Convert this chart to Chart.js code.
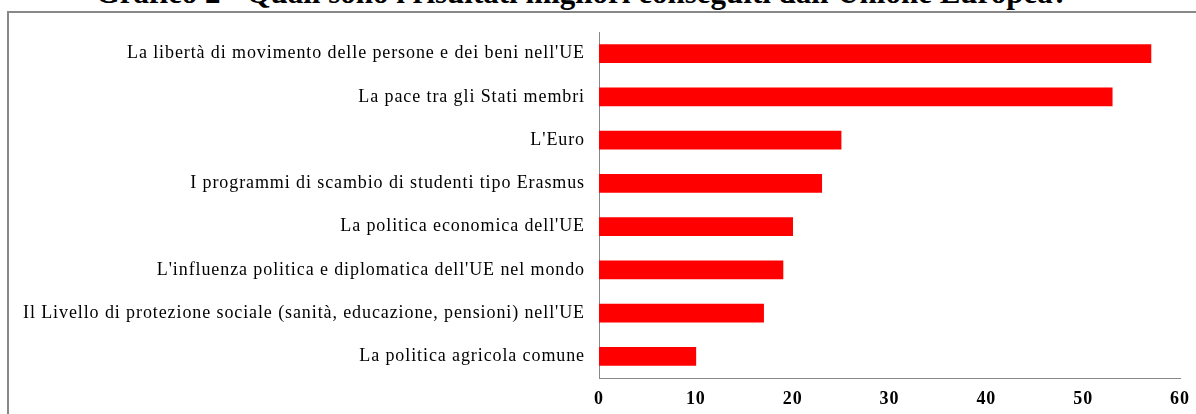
<!DOCTYPE html>
<html>
<head>
<meta charset="utf-8">
<script src="https://cdn.jsdelivr.net/npm/chart.js@4"></script>
<style>
  html, body { margin: 0; padding: 0; background: #fff; width: 1196px; height: 414px; overflow: hidden; position: relative; }
  #title { position: absolute; left: 0; width: 1164px; top: -23px; line-height: 31px; text-align: center; font-family: "Liberation Serif", serif; font-weight: bold; font-size: 31px; color: #000; white-space: nowrap; }
  #frame { position: absolute; left: 7px; top: 11px; width: 1300px; height: 500px; border: 2px solid #888; box-sizing: border-box; }
  #wrap { position: absolute; left: 0; top: 0; width: 1196px; height: 414px; }
</style>
</head>
<body>
<div id="title">Grafico 2 - Quali sono i risultati migliori conseguiti dall'Unione Europea?</div>
<div id="frame"></div>
<div id="wrap"><canvas id="c" width="1196" height="414"></canvas></div>
<script>
const categories = [
  "La libertà di movimento delle persone e dei beni nell'UE",
  "La pace tra gli Stati membri",
  "L'Euro",
  "I programmi di scambio di studenti tipo Erasmus",
  "La politica economica dell'UE",
  "L'influenza politica e diplomatica dell'UE nel mondo",
  "Il Livello di protezione sociale (sanità, educazione, pensioni) nell'UE",
  "La politica agricola comune"
];
const values = [57, 53, 25, 23, 20, 19, 17, 10];
const xTicks = [0, 10, 20, 30, 40, 50, 60];

const spacing = {
  id: 'spacing',
  beforeLayout(chart) { chart.ctx.letterSpacing = '0.9px'; },
  beforeDraw(chart) { chart.ctx.letterSpacing = '0.9px'; }
};

new Chart(document.getElementById('c'), {
  type: 'bar',
  data: {
    labels: categories,
    datasets: [{
      data: values,
      backgroundColor: '#FF0000',
      borderWidth: 0,
      barThickness: 18
    }]
  },
  options: {
    indexAxis: 'y',
    responsive: false,
    animation: false,
    layout: { padding: { top: 32, right: 16, left: 0, bottom: 0 } },
    plugins: { legend: { display: false }, tooltip: { enabled: false } },
    scales: {
      x: {
        min: 0, max: 60,
        afterBuildTicks: (s) => { s.ticks = xTicks.map(v => ({ value: v })); },
        afterFit: (s) => { s.height = 36; s.paddingRight = 0; s.paddingLeft = 0; },
        grid: { display: false, drawTicks: false },
        border: { display: true, color: '#888', width: 1 },
        ticks: {
          padding: 11,
          color: '#000',
          font: { family: 'Liberation Serif', size: 18, weight: 'bold' },
          maxRotation: 0
        }
      },
      y: {
        afterFit: (s) => { s.width = 599; s.paddingTop = 0; s.paddingBottom = 0; },
        grid: { display: false, drawTicks: false },
        border: { display: true, color: '#888', width: 1 },
        ticks: {
          padding: 14,
          color: '#000',
          font: { family: 'Liberation Serif', size: 18 },
          autoSkip: false
        }
      }
    }
  },
  plugins: [spacing]
});
</script>
</body>
</html>
